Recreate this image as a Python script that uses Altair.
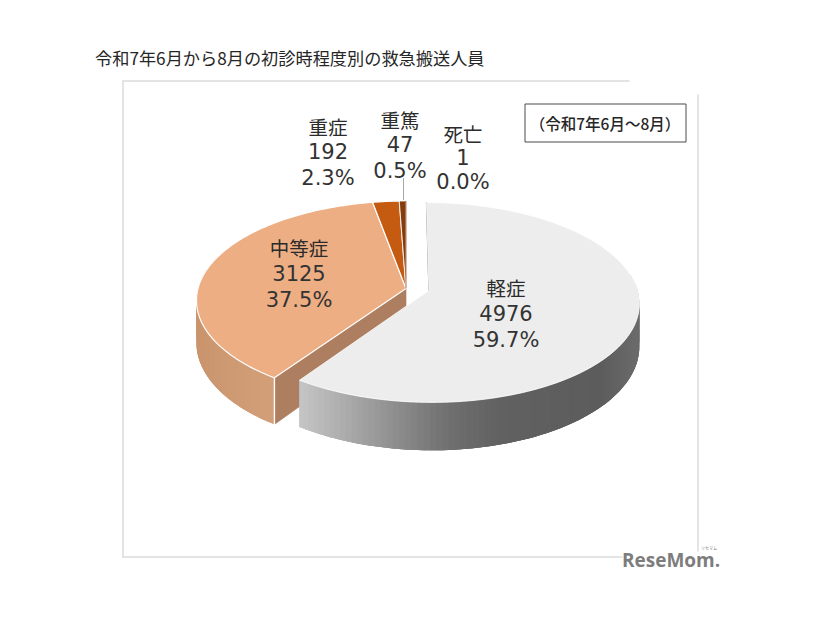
import math
import numpy as np
import pandas as pd
import altair as alt

# ---- data ----
categories = ["軽症", "中等症", "重症", "重篤", "死亡"]
counts = [4976, 3125, 192, 47, 1]
shares = ["59.7%", "37.5%", "2.3%", "0.5%", "0.0%"]
title_text = "令和7年6月から8月の初診時程度別の救急搬送人員"
period_text = "（令和7年6月～8月）"

# ---- view model (page px minus the 8px margin) ----
M = 8
CX, CY = 406 - M, 288.5 - M
R, RY = 208.0, 98.0
K = 0.12
DEPTH = 42.0
FONT = "Noto Sans CJK JP"
NUM_FONT = "DejaVu Sans"
TOP = ["#ededed", "#edae83", "#c55a11", "#843c0c", "#7a3a10"]
EXPLODE = {0: (0.11, 0.02)}

total = sum(counts)
edges = np.concatenate([[0], np.cumsum(counts)]) / total * 360.0


def project(u, v, drop=0.0):
    f = 1.0 / (1.0 - K * v)
    return [CX + R * u * f, CY + (RY * v + drop) * f]


def rim(i, a, drop=0.0):
    du, dv = EXPLODE.get(i, (0, 0))
    t = math.radians(a)
    return project(math.sin(t) + du, -math.cos(t) + dv, drop)


def apex(i, drop=0.0):
    du, dv = EXPLODE.get(i, (0, 0))
    return project(du, dv, drop)


features = []


def poly(points, fill, stroke=None, width=0.6):
    ring = [list(p) for p in points] + [list(points[0])]
    features.append({
        "type": "Feature",
        "geometry": {"type": "Polygon", "coordinates": [ring]},
        "properties": {"c": fill, "s": stroke or fill, "w": width},
    })


def shade(x, xs, cs):
    rgb = [np.interp(x, xs, [int(c[k:k + 2], 16) for c in cs]) for k in (1, 3, 5)]
    return "#%02x%02x%02x" % tuple(int(round(c)) for c in rgb)


def wall(i, a0, a1, xs, cs, reverse=False):
    # overlapping bands, so that no background shows through the joins
    starts = np.arange(a0, a1, 1.5)
    bands = []
    for a in starts:
        b = a + 1.5
        e = min(a + 4.5, a1)
        mid = (rim(i, a)[0] + rim(i, min(b, a1))[0]) / 2 + M
        arc = list(np.linspace(a, e, 4))
        p = [rim(i, t) for t in arc] + [rim(i, t, DEPTH) for t in reversed(arc)]
        bands.append((p, shade(mid, xs, cs)))
    for p, c in (reversed(bands) if reverse else bands):
        poly(p, c, c, 0)


def top(i, stroke, width):
    a0, a1 = edges[i], edges[i + 1]
    n = max(2, int((a1 - a0) / 1.5))
    poly([apex(i)] + [rim(i, a) for a in np.linspace(a0, a1, n)], TOP[i], stroke, width)


# orange slice: radial wall, outer wall, corner line, top
a_split = edges[1]
poly([apex(1), rim(1, a_split), rim(1, a_split, DEPTH), apex(1, DEPTH)], "#ad7e60")
wall(1, a_split, 290, [197, 230, 274], ["#c9946c", "#cd9972", "#d29e78"], reverse=True)
poly([rim(1, a_split), rim(1, a_split, DEPTH)], "#ffffff", "#ffffff", 1.4)
top(1, "#ffffff", 1.2)
top(2, "#ffffff", 1.2)
top(3, "#ffffff", 0.8)
top(4, "#843c0c", 0.4)

# light slice
poly([apex(0), rim(0, 0), apex(0)], "#6a6a6a", "#6a6a6a", 1.2)
wall(0, 80, a_split, [298, 350, 400, 450, 500, 600, 640],
     ["#c6c6c6", "#a9a9a9", "#8b8b8b", "#6f6f6f", "#616161", "#5c5c5c", "#6c6c6c"], reverse=False)
top(0, "#ffffff", 0.8)

# leader line of the 重篤 label
poly([[403.5 - M, 178 - M], [403.5 - M, 200 - M]], "#a6a6a6", "#a6a6a6", 1)

# chart frame
frame = "#dcdcdc"
poly([[123 - M, 81 - M], [629 - M, 81 - M]], frame, frame, 1.5)
poly([[123 - M, 81 - M], [123 - M, 557 - M]], frame, frame, 1.5)
poly([[123 - M, 557 - M], [622 - M, 557 - M]], frame, frame, 1.5)
poly([[698 - M, 95 - M], [698 - M, 551 - M]], frame, frame, 1.5)
# period box
bx = [[525 - M, 104 - M], [686 - M, 104 - M], [686 - M, 142 - M], [525 - M, 142 - M]]
poly(bx, "#ffffff", "#4a4a4a", 1)

shapes = alt.Chart(alt.Data(values=features)).mark_geoshape(strokeJoin="round").encode(
    fill=alt.Fill("properties.c:N", scale=None, legend=None),
    stroke=alt.Stroke("properties.s:N", scale=None, legend=None),
    strokeWidth=alt.StrokeWidth("properties.w:Q", scale=None, legend=None),
).project(type="identity", scale=1, translate=[0, 0])

X = alt.X("x:Q", scale=None, axis=None)
Y = alt.Y("y:Q", scale=None, axis=None)

# ---- labels ----
label_pos = {  # centre x, y of three lines (page px)
    "軽症": (506, 290, 315, 341),
    "中等症": (299, 250, 275, 301),
    "重症": (328, 129, 153, 179),
    "重篤": (400, 122, 146, 172),
    "死亡": (463, 136, 159, 183),
}
name_rows, num_rows = [], []
for name, n, pct in zip(categories, counts, shares):
    x, y1, y2, y3 = label_pos[name]
    name_rows.append({"x": x - M, "y": y1 - M, "t": name})
    num_rows.append({"x": x - M, "y": y2 - M, "t": str(n)})
    num_rows.append({"x": x - M, "y": y3 - M, "t": pct})

names = alt.Chart(pd.DataFrame(name_rows)).mark_text(
    font=FONT, fontSize=19.5, color="#2b2b2b", baseline="middle", align="center"
).encode(x=X, y=Y, text="t:N")
nums = alt.Chart(pd.DataFrame(num_rows)).mark_text(
    font=NUM_FONT, fontSize=21, color="#333333", baseline="middle", align="center"
).encode(x=X, y=Y, text="t:N")

title = alt.Chart(pd.DataFrame([{"x": 95 - M, "y": 60 - M, "t": title_text}])).mark_text(
    font=FONT, fontSize=17.2, color="#262626", baseline="middle", align="left"
).encode(x=X, y=Y, text="t:N")

period = alt.Chart(pd.DataFrame([{"x": 605 - M, "y": 125 - M, "t": period_text}])).mark_text(
    font=FONT, fontSize=15.5, fontWeight=500, color="#262626", baseline="middle", align="center"
).encode(x=X, y=Y, text="t:N")

logo = alt.Chart(pd.DataFrame([{"x": 622 - M, "y": 561 - M, "t": "ReseMom."}])).mark_text(
    font="Open Sans", fontSize=19, fontWeight="bold", color="#7d7d7d", baseline="middle", align="left"
).encode(x=X, y=Y, text="t:N")

logo_small = alt.Chart(pd.DataFrame([{"x": 709 - M, "y": 549 - M, "t": "リセマム"}])).mark_text(
    font=FONT, fontSize=4, color="#7d7d7d", baseline="middle", align="center"
).encode(x=X, y=Y, text="t:N")

chart = alt.layer(shapes, names, nums, title, period, logo, logo_small).properties(
    width=810, height=600, padding=0, background="#ffffff", autosize="none"
).configure_view(stroke=None)

chart.save("out.html", embed_options={"renderer": "svg", "actions": False})
